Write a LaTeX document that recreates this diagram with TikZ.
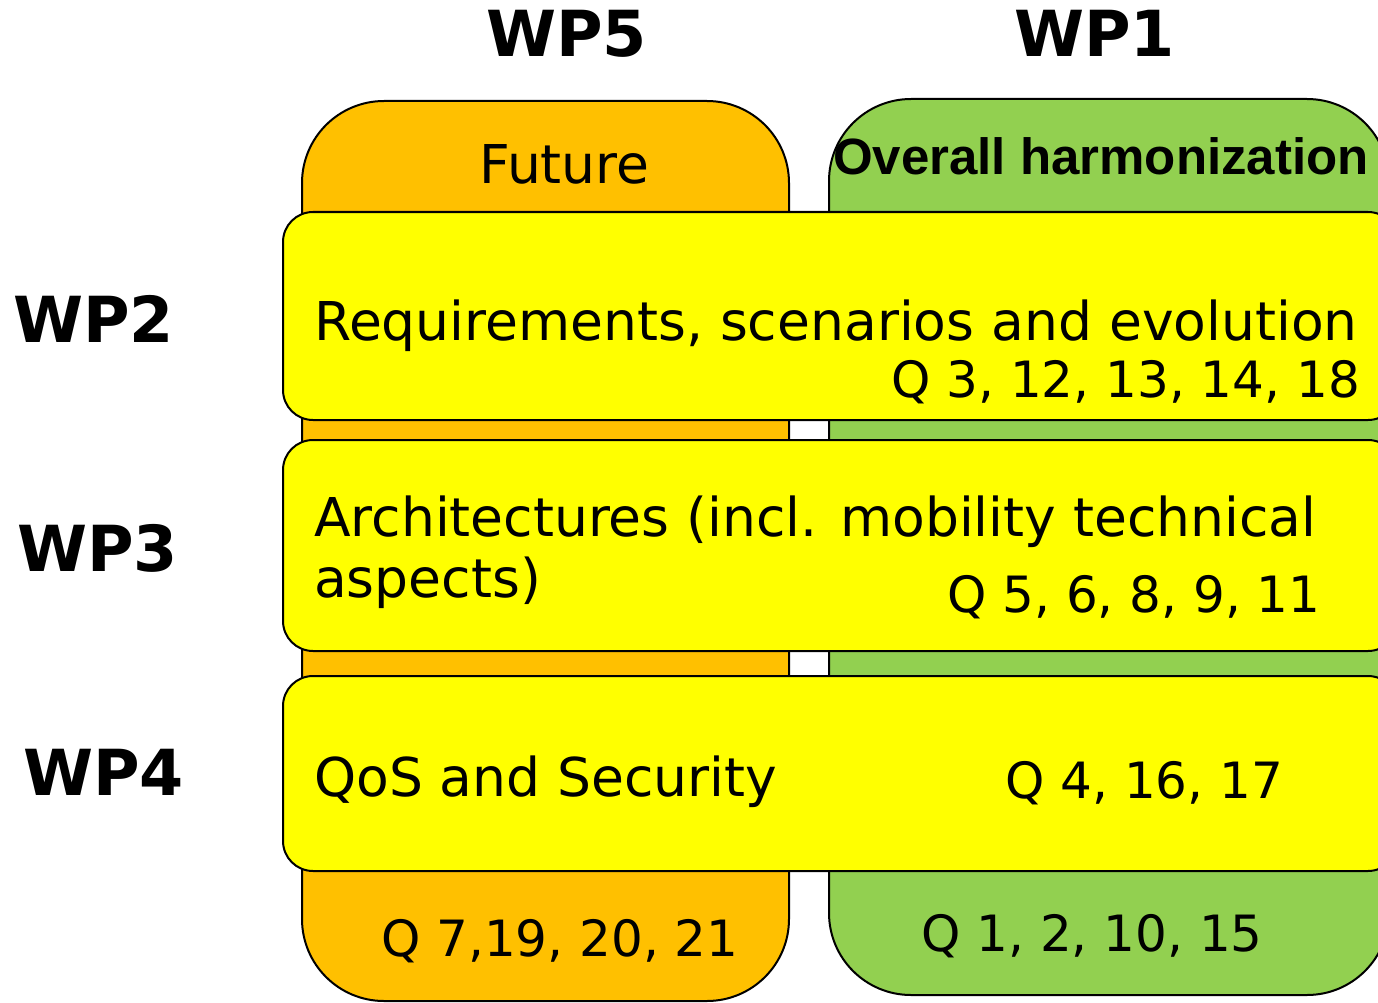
\documentclass[tikz,border=0pt]{standalone}
\usepackage{fontspec}
\setmainfont{DejaVu Sans}
\newfontfamily\headfont{Liberation Sans}
\definecolor{wporange}{HTML}{FFC000}
\definecolor{wpgreen}{HTML}{92D050}
\definecolor{wpyellow}{HTML}{FFFF00}
\begin{document}
\begin{tikzpicture}[x=1pt,y=-1pt,
  column/.style={draw=black, line width=2pt, rounded corners=82pt, inner sep=0pt, outer sep=0pt, anchor=north west},
  band/.style={draw=black, line width=2pt, fill=wpyellow, rounded corners=30pt, inner sep=0pt, outer sep=0pt, anchor=north west},
  wplabel/.style={anchor=base west, inner sep=0pt, font=\bfseries\fontsize{63.5}{70}\selectfont},
  bigtext/.style={anchor=base west, inner sep=0pt, font=\fontsize{53.5}{62}\selectfont},
  qtext/.style={anchor=base west, inner sep=0pt, font=\fontsize{50}{60}\selectfont}]
\useasboundingbox (0,0) rectangle (1378,1003);
\clip (0,0) rectangle (1378,1003);

% work package columns
\node[column, fill=wporange, minimum width=487pt, minimum height=900pt] (wp5box) at (302,101) {};
\node[column, fill=wpgreen, minimum width=560pt, minimum height=896pt] (wp1box) at (829,99) {};

% horizontal work package bands
\node[band, minimum width=1115pt, minimum height=208pt] (wp2box) at (283,212) {};
\node[band, minimum width=1115pt, minimum height=211pt] (wp3box) at (283,440) {};
\node[band, minimum width=1115pt, minimum height=195pt] (wp4box) at (283,676) {};

% work package labels
\node[wplabel] (wp5) at (486,57) {WP5};
\node[wplabel] (wp1) at (1014,57) {WP1};
\node[wplabel] (wp2) at (13,342) {WP2};
\node[wplabel] (wp3) at (17,571) {WP3};
\node[wplabel] (wp4) at (23,795) {WP4};

% column titles
\node[bigtext] (future) at (479,184) {Future};
\node[anchor=base west, inner sep=0pt, font=\headfont\bfseries\fontsize{51}{60}\selectfont] (harmon) at (833,175) {Overall harmonization};

% band texts
\node[bigtext] (req) at (314,340) {Requirements, scenarios and evolution};
\node[qtext] (reqq) at (891,397) {Q 3, 12, 13, 14, 18};
\node[bigtext] (arch1) at (314,536) {Architectures (incl. mobility technical};
\node[bigtext] (arch2) at (314,597) {aspects)};
\node[qtext] (archq) at (947,612) {Q 5, 6, 8, 9, 11};
\node[bigtext] (qos) at (314,796) {QoS and Security};
\node[qtext] (qosq) at (1005,798) {Q 4, 16, 17};

% column question lists
\node[qtext] (futq) at (381,956) {Q 7,19, 20, 21};
\node[qtext] (harmq) at (921,951) {Q 1, 2, 10, 15};
\end{tikzpicture}
\end{document}
